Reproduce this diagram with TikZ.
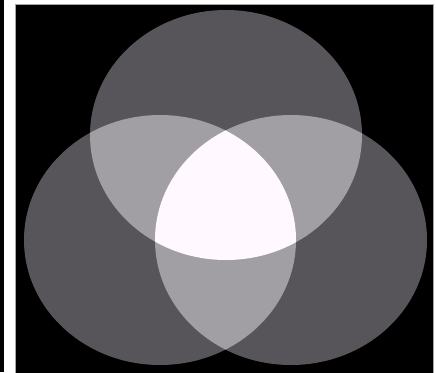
\documentclass[tikz,border=0pt]{standalone}
\definecolor{onegray}{RGB}{88,85,90}
\definecolor{twogray}{RGB}{161,158,164}
\definecolor{threewhite}{RGB}{255,249,255}
\begin{document}
\begin{tikzpicture}[x=0.02cm, y=-0.02cm,
    single/.style={fill=onegray},
    double/.style={fill=twogray},
    triple/.style={fill=threewhite}]
\useasboundingbox (0,0) rectangle (436,372);
\fill[white] (0,0) rectangle (436,372);
\fill[black] (0,0) rectangle (4,372);
\filldraw[fill=black, draw=gray!70, line width=0.02cm] (15.5,4.5) rectangle (433.5,373);
% the three rings
\fill[single] (226,135) ellipse (136 and 125);
\fill[single] (160,240) ellipse (136 and 125);
\fill[single] (291,240) ellipse (136 and 125);
% overlaps of two
\begin{scope}
\clip (160,240) ellipse (136 and 125);
\fill[double] (226,135) ellipse (136 and 125);
\fill[double] (291,240) ellipse (136 and 125);
\end{scope}
\begin{scope}
\clip (226,135) ellipse (136 and 125);
\fill[double] (291,240) ellipse (136 and 125);
\end{scope}
% middle
\begin{scope}
\clip (160,240) ellipse (136 and 125);
\clip (226,135) ellipse (136 and 125);
\fill[triple] (291,240) ellipse (136 and 125);
\end{scope}
\end{tikzpicture}
\end{document}
